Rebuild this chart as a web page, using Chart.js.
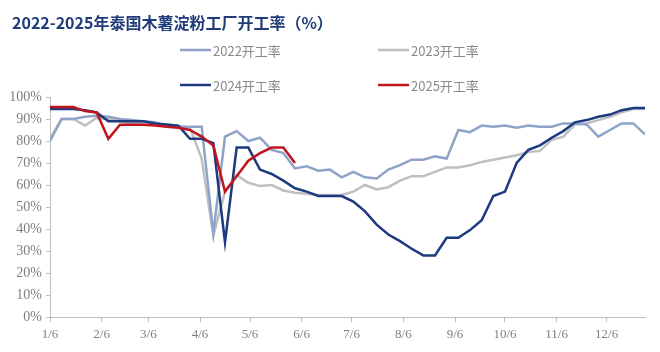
<!DOCTYPE html>
<html>
<head>
<meta charset="utf-8">
<script src="https://cdn.jsdelivr.net/npm/chart.js@4.4.1/dist/chart.umd.min.js"></script>
<style>
  html, body { margin: 0; padding: 0; background: #fff; }
  #wrap { width: 660px; height: 352px; position: relative; }
</style>
</head>
<body>
<div id="wrap"><canvas id="rateChart"></canvas></div>
<script>
// weekly points, x = day of year (first week on Jan 6)
const weekDays = Array.from({ length: 52 }, (_, i) => 6 + 7 * i);
const tickDays = [6, 37, 65, 96, 126, 157, 187, 218, 249, 279, 310, 340];
const tickLabels = ['1/6', '2/6', '3/6', '4/6', '5/6', '6/6', '7/6', '8/6', '9/6', '10/6', '11/6', '12/6'];

const rate2022 = [80, 90, 90, 91, 91.5, 91, 90, 89.5, 89, 88.5, 87, 86.5, 86.5, 86.5, 38, 82,
  84.5, 80, 81.5, 76, 74.5, 67.5, 68.5, 66.5, 67, 63.5, 66, 63.5, 63, 67, 69, 71.5,
  71.5, 73, 72, 85, 84, 87, 86.5, 87, 86, 87, 86.5, 86.5, 88, 88, 87.5, 82, 85, 88, 88, 83];
const rate2023 = [81, 90, 90, 87, 90.5, 90, 89, 88, 88.5, 88, 87, 86.5, 86, 72, 37, 57,
  64.5, 61, 59.5, 60, 57.5, 56.5, 56, 55.5, 55.5, 55.5, 57, 60, 58, 59, 62, 64,
  64, 66, 68, 68, 69, 70.5, 71.5, 72.5, 73.5, 75, 75.5, 80.5, 82, 87.5, 88, 89.5, 91, 93, 94.5, 94.5];
const rate2024 = [94.5, 94.5, 94.5, 94, 93, 89, 89, 89, 89, 88, 87.5, 87, 81, 81, 79, 34,
  77, 77, 67, 65, 62, 58.5, 57, 55, 55, 55, 52.5, 48, 42, 37.5, 34.5, 31,
  28, 28, 36, 36, 39.5, 44, 55, 57, 70, 76, 78, 81.5, 84.5, 88.5, 89.5, 91, 92, 94, 95, 95];
const rate2025 = [95.5, 95.5, 95.5, 93.6, 93, 81, 87.4, 87.4, 87.4, 87, 86.5, 86, 85, 82, 78, 57,
  64, 71, 74.5, 77, 77, 70];

const seriesNames = ['2022开工率', '2023开工率', '2024开工率', '2025开工率'];
const seriesColors = ['#8fa3c9', '#bfbfbf', '#1c3a7e', '#c3141d'];

function toPoints(values) {
  return values.map((v, i) => ({ x: weekDays[i], y: v }));
}

const titleText = '2022-2025年泰国木薯淀粉工厂开工率（%）';

// title + 2x2 legend drawn on the canvas
const decor = {
  id: 'decor',
  afterDraw(chart) {
    const ctx = chart.ctx;
    ctx.save();
    ctx.fillStyle = '#1f3b78';
    ctx.font = 'bold 16px "Noto Sans CJK SC"';
    ctx.textBaseline = 'middle';
    ctx.textAlign = 'left';
    ctx.fillText(titleText, 12, 23);

    const spots = [[180, 50], [378, 50], [180, 85], [378, 85]];
    ctx.font = '13px "Noto Sans CJK SC"';
    seriesNames.forEach((name, i) => {
      const [x, y] = spots[i];
      ctx.strokeStyle = seriesColors[i];
      ctx.lineWidth = 2.5;
      ctx.beginPath();
      ctx.moveTo(x, y);
      ctx.lineTo(x + 31, y);
      ctx.stroke();
      ctx.fillStyle = '#8a8a8a';
      ctx.fillText(name, x + 33, y + 1);
    });
    ctx.restore();
  }
};

const datasets = [rate2022, rate2023, rate2024, rate2025].map((vals, i) => ({
  label: seriesNames[i],
  data: toPoints(vals),
  borderColor: seriesColors[i],
  backgroundColor: seriesColors[i],
  borderWidth: 2.5,
  pointRadius: 0,
  tension: 0,
  order: [2, 3, 1, 0][i]
}));

new Chart(document.getElementById('rateChart'), {
  type: 'line',
  data: { datasets: datasets },
  options: {
    responsive: true,
    maintainAspectRatio: false,
    animation: false,
    layout: { padding: { top: 97, right: 15, left: 0, bottom: 0 } },
    plugins: {
      legend: { display: false },
      tooltip: { enabled: false }
    },
    scales: {
      x: {
        type: 'linear',
        min: 6,
        max: 363,
        afterBuildTicks(scale) {
          scale.ticks = tickDays.map(v => ({ value: v }));
        },
        afterFit(scale) { scale.height = 35; },
        ticks: {
          autoSkip: false,
          maxRotation: 0,
          padding: 5,
          color: '#7f7f7f',
          font: { family: '"Liberation Serif"', size: 13 },
          callback: (value, index) => tickLabels[index]
        },
        grid: { drawOnChartArea: false, tickLength: 5, color: '#bfbfbf' },
        border: { color: '#bfbfbf', width: 1 }
      },
      y: {
        min: 0,
        max: 100,
        afterFit(scale) { scale.width = 50; },
        ticks: {
          stepSize: 10,
          padding: 4,
          color: '#7f7f7f',
          font: { family: '"Liberation Serif"', size: 14 },
          callback: v => v + '%'
        },
        grid: { drawOnChartArea: false, tickLength: 4, color: '#bfbfbf' },
        border: { color: '#bfbfbf', width: 1 }
      }
    }
  },
  plugins: [decor]
});
</script>
</body>
</html>
